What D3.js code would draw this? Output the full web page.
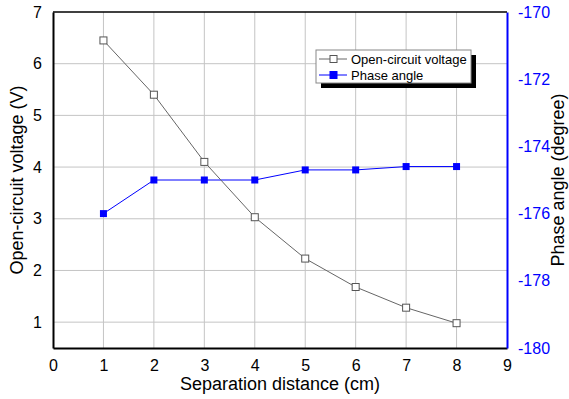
<!DOCTYPE html>
<html>
<head>
<meta charset="utf-8">
<script src="https://cdn.jsdelivr.net/npm/d3@7"></script>
<style>
  body { margin: 0; background: #fff; }
  text { font-family: "Liberation Sans", Arial, sans-serif; }
</style>
</head>
<body>
<div id="chart"></div>
<script>
var distance = [1, 2, 3, 4, 5, 6, 7, 8];
var voltage = [6.45, 5.4, 4.1, 3.03, 2.23, 1.68, 1.28, 0.98];
var phase = [-176, -175, -175, -175, -174.7, -174.7, -174.6, -174.6];
var xTicks = [0, 1, 2, 3, 4, 5, 6, 7, 8, 9];
var leftTicks = [1, 2, 3, 4, 5, 6, 7];
var rightTicks = [-170, -172, -174, -176, -178, -180];

var width = 569, height = 399;
var margin = {top: 12, right: 62, bottom: 51, left: 53};
var w = width - margin.left - margin.right;
var h = height - margin.top - margin.bottom;

var svg = d3.select("#chart").append("svg")
   .attr("width", width)
   .attr("height", height);

var g = svg.append("g")
   .attr("transform", "translate(" + margin.left + "," + margin.top + ")");

var x = d3.scaleLinear().domain([0, 9]).range([0, w]);
var y = d3.scaleLinear().domain([0.5, 7]).range([h, 0]);
var y2 = d3.scaleLinear().domain([-180, -170]).range([h, 0]);

var plain = function(d) { return String(d); };

// grid
g.append("g").selectAll("line")
   .data(xTicks.filter(function(d) { return d > 0 && d < 9; }))
   .enter().append("line")
   .attr("x1", function(d) { return x(d); })
   .attr("x2", function(d) { return x(d); })
   .attr("y1", 0).attr("y2", h)
   .attr("stroke", "#c4c4c4").attr("stroke-width", 1);

g.append("g").selectAll("line")
   .data(leftTicks.filter(function(d) { return d < 7; }))
   .enter().append("line")
   .attr("y1", function(d) { return y(d); })
   .attr("y2", function(d) { return y(d); })
   .attr("x1", 0).attr("x2", w)
   .attr("stroke", "#c4c4c4").attr("stroke-width", 1);

// axes
var xAxis = d3.axisBottom(x).tickValues(xTicks).tickFormat(plain).tickSize(0).tickPadding(12);
var gx = g.append("g")
   .attr("transform", "translate(0," + h + ")")
   .call(xAxis);
gx.select(".domain").attr("stroke", "#000").attr("stroke-width", 2);
gx.selectAll(".tick text").style("font-size", "16px").attr("fill", "#000");

var yAxis = d3.axisLeft(y).tickValues(leftTicks).tickFormat(plain).tickSize(0).tickPadding(11);
var gy = g.append("g").call(yAxis);
gy.select(".domain").attr("stroke", "#000").attr("stroke-width", 2);
gy.selectAll(".tick text").style("font-size", "16px").attr("fill", "#000");

var y2Axis = d3.axisRight(y2).tickValues(rightTicks).tickFormat(plain).tickSize(0).tickPadding(11);
var gy2 = g.append("g")
   .attr("transform", "translate(" + w + ",0)")
   .call(y2Axis);
gy2.select(".domain").attr("stroke", "#0000ff").attr("stroke-width", 2);
gy2.selectAll(".tick text").style("font-size", "16px").attr("fill", "#0000ff");

// top frame
g.append("line")
   .attr("x1", 0).attr("x2", w).attr("y1", 0).attr("y2", 0)
   .attr("stroke", "#000").attr("stroke-width", 1.5);

// axis titles
svg.append("text")
   .attr("x", margin.left + w / 2)
   .attr("y", 390)
   .attr("text-anchor", "middle")
   .style("font-size", "18px")
   .text("Separation distance (cm)");

svg.append("text")
   .attr("transform", "translate(23," + (margin.top + h / 2) + ") rotate(-90)")
   .attr("text-anchor", "middle")
   .style("font-size", "18px")
   .text("Open-circuit voltage (V)");

svg.append("text")
   .attr("transform", "translate(564," + (margin.top + h / 2) + ") rotate(-90)")
   .attr("text-anchor", "middle")
   .style("font-size", "18px")
   .text("Phase angle (degree)");

// series
var vData = distance.map(function(d, i) { return {x: d, v: voltage[i]}; });
var pData = distance.map(function(d, i) { return {x: d, v: phase[i]}; });

g.append("path")
   .datum(pData)
   .attr("fill", "none")
   .attr("stroke", "#0000ff")
   .attr("stroke-width", 1)
   .attr("d", d3.line().x(function(d) { return x(d.x); }).y(function(d) { return y2(d.v); }));

g.append("path")
   .datum(vData)
   .attr("fill", "none")
   .attr("stroke", "#666")
   .attr("stroke-width", 1)
   .attr("d", d3.line().x(function(d) { return x(d.x); }).y(function(d) { return y(d.v); }));

g.selectAll(".pmark")
   .data(pData)
   .enter().append("rect")
   .attr("class", "pmark")
   .attr("x", function(d) { return x(d.x) - 3.5; })
   .attr("y", function(d) { return y2(d.v) - 3.5; })
   .attr("width", 7).attr("height", 7)
   .attr("fill", "#0000ff");

g.selectAll(".vmark")
   .data(vData)
   .enter().append("rect")
   .attr("class", "vmark")
   .attr("x", function(d) { return x(d.x) - 3.5; })
   .attr("y", function(d) { return y(d.v) - 3.5; })
   .attr("width", 7).attr("height", 7)
   .attr("fill", "#fff")
   .attr("stroke", "#555")
   .attr("stroke-width", 1);

// legend
var lg = svg.append("g").attr("transform", "translate(316,50)");
lg.append("rect")
   .attr("x", 5).attr("y", 5).attr("width", 155).attr("height", 33)
   .attr("fill", "#000");
lg.append("rect")
   .attr("x", 0).attr("y", 0).attr("width", 155).attr("height", 33)
   .attr("fill", "#fff").attr("stroke", "#888").attr("stroke-width", 1);

var items = [
   {label: "Open-circuit voltage", stroke: "#666", fill: "#fff", mstroke: "#555"},
   {label: "Phase angle", stroke: "#0000ff", fill: "#0000ff", mstroke: "#0000ff"}
];
items.forEach(function(it, i) {
   var yy = 9 + i * 16;
   lg.append("line")
      .attr("x1", 3).attr("x2", 31).attr("y1", yy).attr("y2", yy)
      .attr("stroke", it.stroke).attr("stroke-width", 1);
   lg.append("rect")
      .attr("x", 14).attr("y", yy - 3.5).attr("width", 7).attr("height", 7)
      .attr("fill", it.fill).attr("stroke", it.mstroke).attr("stroke-width", 1);
   lg.append("text")
      .attr("x", 35).attr("y", yy + 4.5)
      .style("font-size", "13px")
      .text(it.label);
});
</script>
</body>
</html>
